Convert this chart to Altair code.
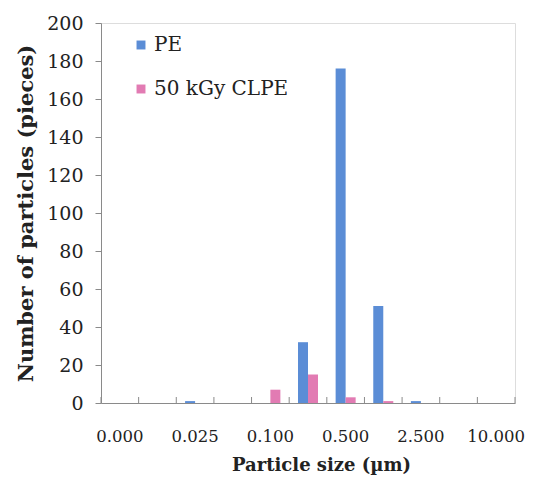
import altair as alt
import pandas as pd

sizes = ["0.000", "0.010", "0.025", "0.050", "0.100", "0.250",
         "0.500", "1.000", "2.500", "5.000", "10.000"]
shown_labels = ["0.000", "0.025", "0.100", "0.500", "2.500", "10.000"]
series = ["PE", "50 kGy CLPE"]
pe_counts = [0, 0, 1, 0, 0, 32, 176, 51, 1, 0, 0]
clpe_counts = [0, 0, 0, 0, 7, 15, 3, 1, 0, 0, 0]
colors = ["#5B8DD6", "#E27BB3"]

rows = []
for s, pv, cv in zip(sizes, pe_counts, clpe_counts):
    rows.append({"size": s, "series": series[0], "count": pv})
    rows.append({"size": s, "series": series[1], "count": cv})
df = pd.DataFrame(rows)

FONT = "DejaVu Serif"
GRAY = "#8a8a8a"

label_expr = "indexof(" + str(shown_labels) + ", datum.value) >= 0 ? datum.value : ''"

xscale = alt.Scale(domain=sizes, paddingInner=0, paddingOuter=0)

bars = alt.Chart(df).mark_bar().encode(
    x=alt.X("size:N", sort=sizes, scale=xscale,
            axis=alt.Axis(title="Particle size (µm)", labelAngle=0, labelExpr=label_expr,
                          ticks=False, labelPadding=25, labelFont=FONT, labelFontSize=16.5,
                          labelColor="#222", titleFont=FONT, titleFontSize=18,
                          titleFontWeight="bold", titleColor="#222", titlePadding=12,
                          titleX=220, domainColor=GRAY, labelOverlap=False)),
    xOffset=alt.XOffset("series:N", sort=series,
                        scale=alt.Scale(paddingInner=0, paddingOuter=0.88)),
    y=alt.Y("count:Q", scale=alt.Scale(domain=[0, 200]),
            axis=alt.Axis(title="Number of particles (pieces)", values=list(range(0, 201, 20)),
                          grid=False, tickSize=6, tickColor=GRAY, domainColor=GRAY,
                          labelFont=FONT, labelFontSize=19, labelColor="#222", labelPadding=12,
                          titleFont=FONT, titleFontSize=21, titleFontWeight="bold",
                          titleColor="#222", titlePadding=10)),
    color=alt.Color("series:N", sort=series,
                    scale=alt.Scale(domain=series, range=colors),
                    legend=alt.Legend(title=None, orient="none", legendX=30, legendY=12,
                                      symbolType="square", symbolSize=80, symbolStrokeWidth=0,
                                      labelFont=FONT, labelFontSize=20, labelColor="#222",
                                      rowPadding=24, labelOffset=3)),
)

tick_df = pd.DataFrame({"size": sizes})
ticks = alt.Chart(tick_df).mark_rule(color=GRAY, strokeWidth=1).encode(
    x=alt.X("size:N", sort=sizes, bandPosition=0, scale=xscale),
    y=alt.value(380), y2=alt.value(374),
)
end_tick = alt.Chart(pd.DataFrame({"size": [sizes[-1]]})).mark_rule(color=GRAY, strokeWidth=1).encode(
    x=alt.X("size:N", sort=sizes, bandPosition=1, scale=xscale),
    y=alt.value(380), y2=alt.value(374),
)

chart = alt.layer(bars, ticks, end_tick).properties(
    width=414, height=380,
    autosize=alt.AutoSizeParams(type="none"),
    padding={"left": 93, "top": 15, "right": 11, "bottom": 80},
).configure_view(stroke=None).configure(background="white")

chart.save("out.html", embed_options={"renderer": "svg", "actions": False})
